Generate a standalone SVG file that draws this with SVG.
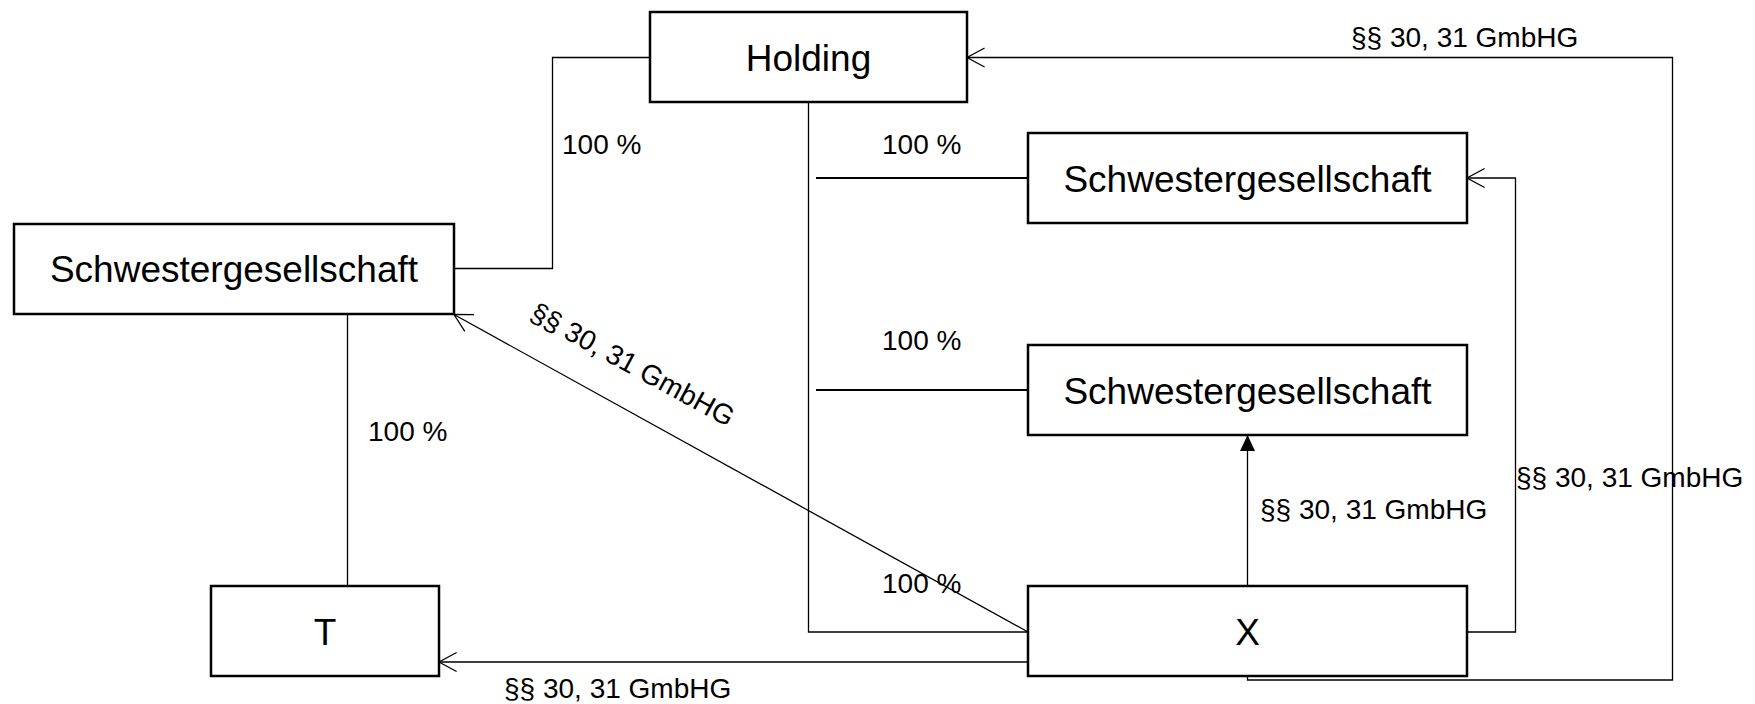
<svg xmlns="http://www.w3.org/2000/svg" width="1755" height="704" viewBox="0 0 1755 704">
<style>
.box{fill:#fff;stroke:#000;stroke-width:2.5}
.big{font-family:"Liberation Sans",Arial,sans-serif;font-size:37px;fill:#000;text-anchor:middle}
.lbl{font-family:"Liberation Sans",Arial,sans-serif;font-size:28px;fill:#000}
.ln{fill:none;stroke:#000;stroke-width:1.3}
.lnb{fill:none;stroke:#000;stroke-width:2}
</style>
<defs>
<marker id="open" markerUnits="userSpaceOnUse" viewBox="-20 -12 22 24" markerWidth="22" markerHeight="24" refX="0" refY="0" orient="auto" overflow="visible">
<path d="M-17.6,-9.5 L0,0 L-17.6,9.5" fill="none" stroke="#000" stroke-width="1.3"/>
</marker>
<marker id="filled" markerUnits="userSpaceOnUse" viewBox="-18 -9 20 18" markerWidth="20" markerHeight="18" refX="0" refY="0" orient="auto" overflow="visible">
<path d="M0,0 L-16,-7.5 L-16,7.5 Z" fill="#000" stroke="none"/>
</marker>
</defs>
<rect width="1755" height="704" fill="#fff"/>
<g id="connectors">
<path class="ln" d="M650,57.5 H552.5 V268.5 H454"/>
<path class="ln" d="M808.5,102 V632 H1028"/>
<path class="lnb" d="M816,178 H1028"/>
<path class="lnb" d="M816,390 H1028"/>
<path class="ln" d="M347.5,314 V586"/>
<path class="ln" d="M1028,632 L454,314.5" marker-end="url(#open)"/>
<path class="ln" d="M1028,662 H439" marker-end="url(#open)"/>
<path class="ln" d="M1247.5,586 V435" marker-end="url(#filled)"/>
<path class="ln" d="M1467,632 H1515.5 V178 H1467" marker-end="url(#open)"/>
<path class="ln" d="M1247.5,677 V680 H1672.5 V57.5 H967" marker-end="url(#open)"/>
<text class="lbl" x="562" y="154">100 %</text>
<text class="lbl" x="882" y="154">100 %</text>
<text class="lbl" x="882" y="350">100 %</text>
<text class="lbl" x="882" y="593">100 %</text>
<text class="lbl" x="368" y="441">100 %</text>
<text class="lbl" x="1351" y="47">§§ 30, 31 GmbHG</text>
<text class="lbl" x="1516" y="487">§§ 30, 31 GmbHG</text>
<text class="lbl" x="1260" y="519">§§ 30, 31 GmbHG</text>
<text class="lbl" x="504" y="698">§§ 30, 31 GmbHG</text>
<text class="lbl" text-anchor="middle" transform="translate(628,373) rotate(28.5)">§§ 30, 31 GmbHG</text>
</g>
<g id="holding">
<rect class="box" x="650" y="12" width="317" height="90"/>
<text class="big" x="808.5" y="70.5">Holding</text>
</g>
<g id="schwester-left">
<rect class="box" x="14" y="224" width="440" height="90"/>
<text class="big" x="234" y="282">Schwestergesellschaft</text>
</g>
<g id="schwester-right-1">
<rect class="box" x="1028" y="133" width="439" height="90"/>
<text class="big" x="1247.5" y="191.5">Schwestergesellschaft</text>
</g>
<g id="schwester-right-2">
<rect class="box" x="1028" y="345" width="439" height="90"/>
<text class="big" x="1247.5" y="403.5">Schwestergesellschaft</text>
</g>
<g id="t">
<rect class="box" x="211" y="586" width="228" height="90"/>
<text class="big" x="325" y="645">T</text>
</g>
<g id="x">
<rect class="box" x="1028" y="586" width="439" height="90"/>
<text class="big" x="1247.5" y="645">X</text>
</g>
</svg>
